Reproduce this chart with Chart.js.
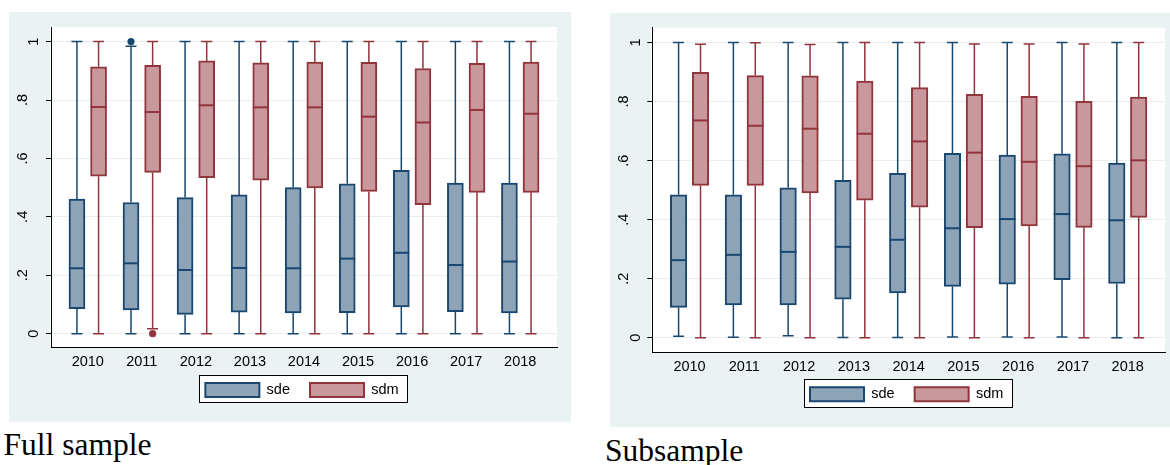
<!DOCTYPE html>
<html><head><meta charset="utf-8">
<script src="https://cdn.jsdelivr.net/npm/chart.js@4.4.1/dist/chart.umd.min.js"></script>
<style>
html,body{margin:0;padding:0;background:#fff;width:1170px;height:465px;overflow:hidden;position:relative}
.panel{position:absolute;background:#EAF2F3}
.panel canvas{display:block}
.cap{position:absolute;font-family:'Liberation Serif','Times New Roman',serif;font-size:31.5px;line-height:31.5px;color:#000;white-space:nowrap}
</style></head><body>
<div class="panel" style="left:9px;top:12px;width:562px;height:410px"><canvas id="c1" width="562" height="410"></canvas></div>
<div class="panel" style="left:610px;top:13px;width:560px;height:414px"><canvas id="c2" width="560" height="414"></canvas></div>
<div class="cap" style="left:3.5px;top:429.3px">Full sample</div>
<div class="cap" style="left:605px;top:435.3px">Subsample</div>
<script>
// ---------- data ----------
const years = ['2010','2011','2012','2013','2014','2015','2016','2017','2018'];
const seriesNames = ['sde','sdm'];
const yTickValues = [0, 0.2, 0.4, 0.6, 0.8, 1];
const yTickLabels = ['0', '.2', '.4', '.6', '.8', '1'];

// Full sample
const fullSdeMin = [0, 0, 0, 0, 0, 0, 0, 0, 0];
const fullSdeQ1  = [0.086, 0.081, 0.066, 0.074, 0.071, 0.072, 0.092, 0.075, 0.071];
const fullSdeMed = [0.224, 0.241, 0.218, 0.225, 0.224, 0.257, 0.277, 0.235, 0.247];
const fullSdeQ3  = [0.461, 0.449, 0.466, 0.475, 0.500, 0.513, 0.559, 0.516, 0.516];
const fullSdeMax = [1, 0.984, 1, 1, 1, 1, 1, 1, 1];
const fullSdeOutlierYears  = ['2011'];
const fullSdeOutlierValues = [1];

const fullSdmMin = [0, 0.017, 0, 0, 0, 0, 0, 0, 0];
const fullSdmQ1  = [0.539, 0.552, 0.534, 0.526, 0.499, 0.487, 0.442, 0.484, 0.484];
const fullSdmMed = [0.776, 0.759, 0.782, 0.775, 0.775, 0.743, 0.723, 0.766, 0.753];
const fullSdmQ3  = [0.914, 0.919, 0.934, 0.927, 0.930, 0.929, 0.908, 0.926, 0.930];
const fullSdmMax = [1, 1, 1, 1, 1, 1, 1, 1, 1];
const fullSdmOutlierYears  = ['2011'];
const fullSdmOutlierValues = [0];

// Subsample
const subSdeMin = [0.005, 0.002, 0.007, 0.001, 0.001, 0.003, 0.003, 0.003, 0];
const subSdeQ1  = [0.103, 0.111, 0.111, 0.131, 0.152, 0.174, 0.182, 0.197, 0.184];
const subSdeMed = [0.263, 0.281, 0.291, 0.308, 0.332, 0.371, 0.402, 0.419, 0.398];
const subSdeQ3  = [0.484, 0.484, 0.508, 0.533, 0.557, 0.625, 0.619, 0.623, 0.592];
const subSdeMax = [1, 1, 1, 1, 1, 1, 1, 1, 1];

const subSdmMin = [0, 0, 0, 0, 0, 0, 0, 0, 0];
const subSdmQ1  = [0.516, 0.516, 0.491, 0.466, 0.442, 0.373, 0.379, 0.374, 0.408];
const subSdmMed = [0.736, 0.718, 0.708, 0.691, 0.665, 0.627, 0.596, 0.581, 0.601];
const subSdmQ3  = [0.899, 0.888, 0.887, 0.869, 0.847, 0.824, 0.818, 0.801, 0.815];
const subSdmMax = [0.994, 0.999, 0.993, 1, 1, 0.995, 0.995, 0.995, 1];

// ---------- style ----------
const FONT = "'Liberation Sans', Arial, Helvetica, sans-serif";
const SDE_BORDER = '#1A476F', SDE_FILL = '#8CA3B8';
const SDM_BORDER = '#90353B', SDM_FILL = '#C9989C';
const GRID = '#E6EEF0';
Chart.defaults.font.family = FONT;
Chart.defaults.color = '#000';

function boxSet(label, shift, q1, q3, mn, md, mx, fill, border, st) {
  return {
    type: 'bar', label: label,
    data: years.map((y, i) => ({x: i + shift, y: [q1[i], q3[i]]})),
    stats: {min: mn, med: md, max: mx},
    backgroundColor: fill, borderColor: border, borderWidth: 2, borderSkipped: false,
    grouped: false, barThickness: st.barW, categoryPercentage: 1, barPercentage: 1, order: 2
  };
}
function outlierSet(label, shift, yrs, vals, color) {
  return {
    type: 'scatter', label: label,
    data: yrs.map((y, k) => ({x: years.indexOf(y) + shift, y: vals[k]})),
    pointRadius: 3.6, pointBackgroundColor: color, pointBorderColor: color, pointBorderWidth: 0,
    showLine: false, order: 1
  };
}

const boxPlugin = {
  id: 'boxPlot',
  afterLayout(chart) {
    const lg = chart.legend, a = chart.chartArea, st = chart.options.plugins.boxPlot;
    lg.left = a.left - 2; lg.right = a.right - 2; lg.width = a.right - a.left;
    lg.top = a.bottom + st.legendGap; lg.bottom = lg.top + lg.height;
  },
  beforeDraw(chart) {
    const {ctx, chartArea: a} = chart, st = chart.options.plugins.boxPlot;
    ctx.save();
    ctx.fillStyle = '#fff';
    ctx.fillRect(a.left - 1, a.top, a.right - a.left + 1, a.bottom - a.top);
    const hb = chart.legend.legendHitBoxes;
    if (hb && hb.length) {
      const f = hb[0], l = hb[hb.length - 1];
      const L = Math.round(f.left - 6) + 0.5, R = Math.round(l.left + l.width + 8.5) + 0.5;
      const T = Math.floor(f.top - 7.2) + 0.5, B = Math.floor(f.top + 20) + 0.5;
      ctx.fillRect(L, T, R - L, B - T);
      chart.$legendRect = [L, T, R - L, B - T];
    }
    ctx.restore();
    // y tick label offsets (Stata places dotted labels further out)
    const items = chart.scales.y.getLabelItems();
    items.forEach(it => {
      if (it._moved) return;
      const s = String(it.label);
      it.options.translation[0] += s.startsWith('.') ? -st.labelShift : st.labelShift;
      it._moved = true;
    });
  },
  beforeDatasetsDraw(chart) {
    const ctx = chart.ctx, ys = chart.scales.y, st = chart.options.plugins.boxPlot;
    ctx.save();
    chart.data.datasets.forEach((ds, di) => {
      if (!ds.stats) return;
      const meta = chart.getDatasetMeta(di);
      ctx.strokeStyle = ds.borderColor;
      ctx.lineWidth = st.whiskerW;
      meta.data.forEach((bar, i) => {
        const x = bar.x;
        const yq1 = ys.getPixelForValue(ds.data[i].y[0]);
        const yq3 = ys.getPixelForValue(ds.data[i].y[1]);
        const ymn = ys.getPixelForValue(ds.stats.min[i]);
        const ymx = ys.getPixelForValue(ds.stats.max[i]);
        ctx.beginPath();
        ctx.moveTo(x, yq3); ctx.lineTo(x, ymx);
        ctx.moveTo(x, yq1); ctx.lineTo(x, ymn);
        ctx.moveTo(x - st.capHalf, ymx); ctx.lineTo(x + st.capHalf, ymx);
        ctx.moveTo(x - st.capHalf, ymn); ctx.lineTo(x + st.capHalf, ymn);
        ctx.stroke();
      });
    });
    ctx.restore();
  },
  afterDatasetsDraw(chart) {
    const ctx = chart.ctx, ys = chart.scales.y;
    ctx.save();
    chart.data.datasets.forEach((ds, di) => {
      if (!ds.stats) return;
      const meta = chart.getDatasetMeta(di);
      ctx.strokeStyle = ds.borderColor;
      ctx.lineWidth = 2;
      meta.data.forEach((bar, i) => {
        const y = ys.getPixelForValue(ds.stats.med[i]);
        ctx.beginPath();
        ctx.moveTo(bar.x - bar.width / 2, y); ctx.lineTo(bar.x + bar.width / 2, y);
        ctx.stroke();
      });
    });
    ctx.restore();
  },
  afterDraw(chart) {
    const r = chart.$legendRect;
    if (!r) return;
    const ctx = chart.ctx;
    ctx.save(); ctx.strokeStyle = '#000'; ctx.lineWidth = 1;
    ctx.strokeRect(r[0], r[1], r[2], r[3]);
    ctx.restore();
  }
};

function makeChart(id, sets, st) {
  const font = {family: FONT, size: 14.5};
  return new Chart(document.getElementById(id), {
    type: 'bar',
    data: {datasets: sets},
    plugins: [boxPlugin],
    options: {
      responsive: false, animation: false, events: [],
      layout: {padding: {top: st.padTop, right: st.padRight, bottom: 0, left: 0}},
      scales: {
        x: {
          type: 'linear', min: -0.68, max: 8.68, offset: false,
          afterBuildTicks: s => { s.ticks = years.map((y, i) => ({value: i})); },
          afterFit: s => { s.height = st.xHeight; s.paddingLeft = 0; s.paddingRight = 0; },
          ticks: {callback: (v, i) => years[i], autoSkip: false, maxRotation: 0, minRotation: 0, padding: st.xPad, color: '#000', font},
          grid: {display: false, drawTicks: false, offset: false},
          border: {display: true, color: '#000', width: 1}
        },
        y: {
          type: 'linear', min: -0.048, max: 1.05,
          afterBuildTicks: s => { s.ticks = yTickValues.map(v => ({value: v})); },
          afterFit: s => { s.width = st.yWidth; s.paddingTop = 0; s.paddingBottom = 0; },
          ticks: {callback: (v, i) => yTickLabels[i], minRotation: 90, maxRotation: 90, crossAlign: 'center', padding: st.yPad, color: '#000', font},
          grid: {color: GRID, lineWidth: 1, drawTicks: true, tickLength: 5, tickColor: '#000', tickWidth: 1},
          border: {display: true, color: '#000', width: 1}
        }
      },
      plugins: {
        tooltip: {enabled: false},
        boxPlot: {legendGap: st.legendGap, labelShift: 5.85, whiskerW: 1.5, capHalf: 5.5},
        legend: {
          display: true, position: 'bottom',
          labels: {
            boxWidth: 54, boxHeight: 14, padding: 20, color: '#000', font,
            filter: item => seriesNames.includes(item.text)
          }
        }
      }
    }
  });
}

const st1 = {padTop: 15, padRight: 14, yWidth: 42, xHeight: 29.8, barW: 16, xPad: 6, yPad: 11.6, legendGap: 15};
const st2 = {padTop: 14.7, padRight: 5, yWidth: 42.3, xHeight: 30.5, barW: 16.5, xPad: 6, yPad: 11.6, legendGap: 15};

makeChart('c1', [
  boxSet(seriesNames[0], -0.2, fullSdeQ1, fullSdeQ3, fullSdeMin, fullSdeMed, fullSdeMax, SDE_FILL, SDE_BORDER, st1),
  boxSet(seriesNames[1],  0.2, fullSdmQ1, fullSdmQ3, fullSdmMin, fullSdmMed, fullSdmMax, SDM_FILL, SDM_BORDER, st1),
  outlierSet('sde outliers', -0.2, fullSdeOutlierYears, fullSdeOutlierValues, SDE_BORDER),
  outlierSet('sdm outliers',  0.2, fullSdmOutlierYears, fullSdmOutlierValues, SDM_BORDER)
], st1);

makeChart('c2', [
  boxSet(seriesNames[0], -0.2, subSdeQ1, subSdeQ3, subSdeMin, subSdeMed, subSdeMax, SDE_FILL, SDE_BORDER, st2),
  boxSet(seriesNames[1],  0.2, subSdmQ1, subSdmQ3, subSdmMin, subSdmMed, subSdmMax, SDM_FILL, SDM_BORDER, st2)
], st2);
</script>
</body></html>
